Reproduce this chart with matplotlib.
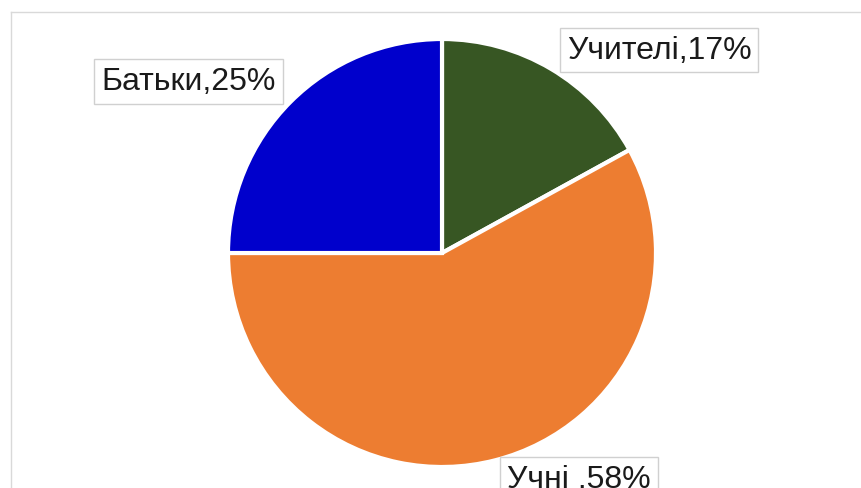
import matplotlib.pyplot as plt
from matplotlib.lines import Line2D

# Дані
labels = ["Учителі", "Учні ", "Батьки"]
shares = [17, 58, 25]
colors = ["#375623", "#ED7D31", "#0000CC"]

W, H = 861, 489
fig = plt.figure(figsize=(W / 100, H / 100), dpi=100)
ax = fig.add_axes([0, 0, 1, 1])

# рамка області діаграми (видно лише лівий і верхній край)
fx, fy = 10.5 / W, 1 - 12.5 / H
fig.add_artist(Line2D([fx, fx], [0, fy], color="#d9d9d9", lw=1))
fig.add_artist(Line2D([fx, 1], [fy, fy], color="#d9d9d9", lw=1))

# Кругова діаграма
ax.pie(shares, colors=colors, startangle=90, counterclock=False,
       center=(442, H - 254), radius=214,
       wedgeprops=dict(edgecolor="white", linewidth=3))
ax.set_xlim(0, W)
ax.set_ylim(0, H)
ax.set_aspect("equal")
ax.axis("off")

# Підписи (розташування як у вихідній діаграмі)
label_pos = [(659, 51), (579, 480), (188.5, 82.5)]
for name, val, (x, y) in zip(labels, shares, label_pos):
    ax.text(x, H - y, f"{name},{val}%", family="Liberation Sans",
            fontsize=23, ha="center", va="center", color="#1a1a1a",
            bbox=dict(boxstyle="square,pad=0.22", fc="white",
                      ec="#d0d0d0", lw=1))

fig.savefig("out.png", dpi=100)
